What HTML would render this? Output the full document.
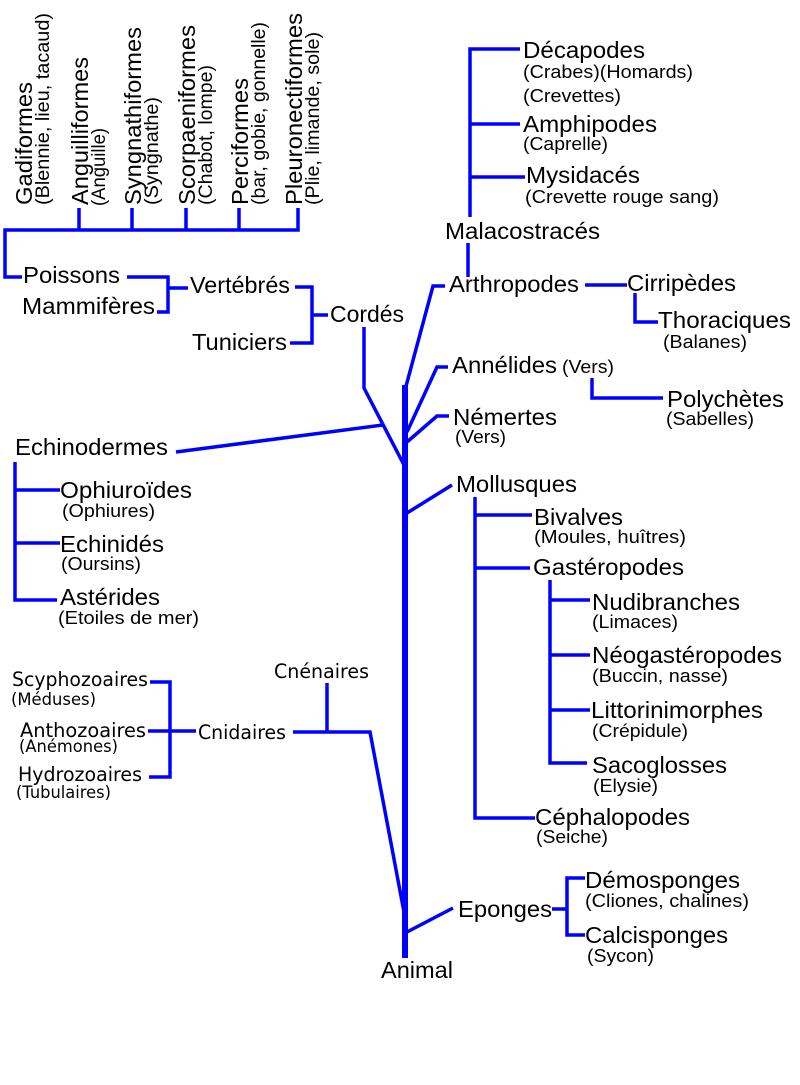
<!DOCTYPE html>
<html>
<head>
<meta charset="utf-8">
<style>
html,body{margin:0;padding:0;background:#fff;}
svg{display:block;}
.m{font-family:"Liberation Sans",Arial,sans-serif;font-size:23px;fill:#000;}
.s{font-family:"Liberation Sans",Arial,sans-serif;font-size:18px;fill:#000;}
.rm{font-family:"Liberation Sans",Arial,sans-serif;font-size:23px;fill:#000;}
.rs{font-family:"Liberation Sans",Arial,sans-serif;font-size:19px;fill:#000;}
.dm{font-family:"DejaVu Sans",sans-serif;font-size:19.5px;fill:#000;}
.ds{font-family:"DejaVu Sans",sans-serif;font-size:16.5px;fill:#000;}
.l{fill:none;stroke:#0000ff;stroke-width:3.5;stroke-linejoin:miter;}
</style>
</head>
<body>
<svg width="800" height="1085" viewBox="0 0 800 1085" xmlns="http://www.w3.org/2000/svg">
<rect x="0" y="0" width="800" height="1085" fill="#fff"/>

<!-- Lines -->
<g class="l">
  <path d="M22,277 H5 V230 H298 V208"/>
  <path d="M79,208 V230 M132,208 V230 M186,208 V230 M239,208 V230"/>
  <path d="M127,277 H168 V312 H157 M168,288 H188"/>
  <path d="M295,287 H312 V343 H290 M312,315 H328"/>
  <path d="M364,327 V388 L404,465"/>
  <path d="M176,452 L383,425"/>
  <path d="M15,462 V600 H57 M15,490 H60 M15,543 H60"/>
  <path d="M445,286 H433 L405,390"/>
  <path d="M520,49 H470 V217 M470,124 H520 M470,177 H525 M468,243 V277"/>
  <path d="M585,285 H627 M635,293 V322 H658"/>
  <path d="M448,367 H437 L407,432"/>
  <path d="M592,378 V398 H663"/>
  <path d="M449,416 H437 L407,442"/>
  <path d="M452,485 L407,513"/>
  <path d="M475,497 V818 H535 M475,515 H532 M475,568 H530"/>
  <path d="M550,580 V763 H587 M550,600 H590 M550,655 H590 M550,710 H590"/>
  <path d="M453,908 L407,932"/>
  <path d="M552,909 H567 M585,878 H567 V935 H585"/>
  <path d="M150,682 H170 V777 H149 M148,731 H196"/>
  <path d="M293,732 H370 L404,912 M327,683 V732"/>
</g>
<path d="M405,385 V958" stroke="#0000ff" stroke-width="6" fill="none"/>

<!-- Rotated fish labels -->
<text class="rm" transform="translate(32,205) rotate(-90)" textLength="123" lengthAdjust="spacingAndGlyphs">Gadiformes</text>
<text class="rs" transform="translate(49,205) rotate(-90)" textLength="192" lengthAdjust="spacingAndGlyphs">(Blennie, lieu, tacaud)</text>
<text class="rm" transform="translate(88,205) rotate(-90)" textLength="148" lengthAdjust="spacingAndGlyphs">Anguilliformes</text>
<text class="rs" transform="translate(105,206) rotate(-90)" textLength="78" lengthAdjust="spacingAndGlyphs">(Anguille)</text>
<text class="rm" transform="translate(141,205) rotate(-90)" textLength="178" lengthAdjust="spacingAndGlyphs">Syngnathiformes</text>
<text class="rs" transform="translate(158,205) rotate(-90)" textLength="108" lengthAdjust="spacingAndGlyphs">(Syngnathe)</text>
<text class="rm" transform="translate(195,205) rotate(-90)" textLength="180" lengthAdjust="spacingAndGlyphs">Scorpaeniformes</text>
<text class="rs" transform="translate(212,205) rotate(-90)" textLength="140" lengthAdjust="spacingAndGlyphs">(Chabot, lompe)</text>
<text class="rm" transform="translate(248,205) rotate(-90)" textLength="127" lengthAdjust="spacingAndGlyphs">Perciformes</text>
<text class="rs" transform="translate(265,205) rotate(-90)" textLength="183" lengthAdjust="spacingAndGlyphs">(bar, gobie, gonnelle)</text>
<text class="rm" transform="translate(302,205) rotate(-90)" textLength="192" lengthAdjust="spacingAndGlyphs">Pleuronectiformes</text>
<text class="rs" transform="translate(319,205) rotate(-90)" textLength="173" lengthAdjust="spacingAndGlyphs">(Plie, limande, sole)</text>

<!-- Left upper labels -->
<text class="m" x="23" y="283" textLength="97" lengthAdjust="spacingAndGlyphs">Poissons</text>
<text class="m" x="22" y="314" textLength="133" lengthAdjust="spacingAndGlyphs">Mammifères</text>
<text class="m" x="190" y="293" textLength="100" lengthAdjust="spacingAndGlyphs">Vertébrés</text>
<text class="m" x="192" y="350" textLength="95" lengthAdjust="spacingAndGlyphs">Tuniciers</text>
<text class="m" x="330" y="322" textLength="74" lengthAdjust="spacingAndGlyphs">Cordés</text>

<!-- Echinoderms -->
<text class="m" x="15" y="455" textLength="153" lengthAdjust="spacingAndGlyphs">Echinodermes</text>
<text class="m" x="60" y="498" textLength="132" lengthAdjust="spacingAndGlyphs">Ophiuroïdes</text>
<text class="s" x="62" y="517" textLength="93" lengthAdjust="spacingAndGlyphs">(Ophiures)</text>
<text class="m" x="60" y="552" textLength="104" lengthAdjust="spacingAndGlyphs">Echinidés</text>
<text class="s" x="61" y="570" textLength="80" lengthAdjust="spacingAndGlyphs">(Oursins)</text>
<text class="m" x="60" y="605" textLength="100" lengthAdjust="spacingAndGlyphs">Astérides</text>
<text class="s" x="58" y="624" textLength="141" lengthAdjust="spacingAndGlyphs">(Etoiles de mer)</text>

<!-- Arthropods -->
<text class="m" x="523" y="58" textLength="122" lengthAdjust="spacingAndGlyphs">Décapodes</text>
<text class="s" x="523" y="78" textLength="170" lengthAdjust="spacingAndGlyphs">(Crabes)(Homards)</text>
<text class="s" x="523" y="102" textLength="98" lengthAdjust="spacingAndGlyphs">(Crevettes)</text>
<text class="m" x="523" y="132" textLength="134" lengthAdjust="spacingAndGlyphs">Amphipodes</text>
<text class="s" x="523" y="150" textLength="85" lengthAdjust="spacingAndGlyphs">(Caprelle)</text>
<text class="m" x="526" y="183" textLength="114" lengthAdjust="spacingAndGlyphs">Mysidacés</text>
<text class="s" x="525" y="203" textLength="194" lengthAdjust="spacingAndGlyphs">(Crevette rouge sang)</text>
<text class="m" x="445" y="239" textLength="155" lengthAdjust="spacingAndGlyphs">Malacostracés</text>
<text class="m" x="449" y="292" textLength="130" lengthAdjust="spacingAndGlyphs">Arthropodes</text>
<text class="m" x="627" y="291" textLength="109" lengthAdjust="spacingAndGlyphs">Cirripèdes</text>
<text class="m" x="658" y="328" textLength="133" lengthAdjust="spacingAndGlyphs">Thoraciques</text>
<text class="s" x="663" y="348" textLength="84" lengthAdjust="spacingAndGlyphs">(Balanes)</text>

<!-- Annelids / Nemerteans -->
<text class="m" x="452" y="373" textLength="105" lengthAdjust="spacingAndGlyphs">Annélides</text>
<text class="s" x="562" y="373" textLength="52" lengthAdjust="spacingAndGlyphs">(Vers)</text>
<text class="m" x="667" y="407" textLength="117" lengthAdjust="spacingAndGlyphs">Polychètes</text>
<text class="s" x="666" y="425" textLength="88" lengthAdjust="spacingAndGlyphs">(Sabelles)</text>
<text class="m" x="453" y="425" textLength="104" lengthAdjust="spacingAndGlyphs">Némertes</text>
<text class="s" x="455" y="443" textLength="51" lengthAdjust="spacingAndGlyphs">(Vers)</text>

<!-- Molluscs -->
<text class="m" x="456" y="492" textLength="121" lengthAdjust="spacingAndGlyphs">Mollusques</text>
<text class="m" x="534" y="525" textLength="89" lengthAdjust="spacingAndGlyphs">Bivalves</text>
<text class="s" x="534" y="543" textLength="152" lengthAdjust="spacingAndGlyphs">(Moules, huîtres)</text>
<text class="m" x="533" y="575" textLength="151" lengthAdjust="spacingAndGlyphs">Gastéropodes</text>
<text class="m" x="592" y="610" textLength="148" lengthAdjust="spacingAndGlyphs">Nudibranches</text>
<text class="s" x="592" y="628" textLength="86" lengthAdjust="spacingAndGlyphs">(Limaces)</text>
<text class="m" x="592" y="663" textLength="190" lengthAdjust="spacingAndGlyphs">Néogastéropodes</text>
<text class="s" x="592" y="682" textLength="136" lengthAdjust="spacingAndGlyphs">(Buccin, nasse)</text>
<text class="m" x="591" y="718" textLength="172" lengthAdjust="spacingAndGlyphs">Littorinimorphes</text>
<text class="s" x="592" y="737" textLength="96" lengthAdjust="spacingAndGlyphs">(Crépidule)</text>
<text class="m" x="592" y="773" textLength="135" lengthAdjust="spacingAndGlyphs">Sacoglosses</text>
<text class="s" x="593" y="792" textLength="65" lengthAdjust="spacingAndGlyphs">(Elysie)</text>
<text class="m" x="535" y="825" textLength="155" lengthAdjust="spacingAndGlyphs">Céphalopodes</text>
<text class="s" x="536" y="843" textLength="72" lengthAdjust="spacingAndGlyphs">(Seiche)</text>

<!-- Sponges -->
<text class="m" x="458" y="917" textLength="94" lengthAdjust="spacingAndGlyphs">Eponges</text>
<text class="m" x="585" y="888" textLength="155" lengthAdjust="spacingAndGlyphs">Démosponges</text>
<text class="s" x="585" y="907" textLength="164" lengthAdjust="spacingAndGlyphs">(Cliones, chalines)</text>
<text class="m" x="585" y="943" textLength="143" lengthAdjust="spacingAndGlyphs">Calcisponges</text>
<text class="s" x="587" y="962" textLength="67" lengthAdjust="spacingAndGlyphs">(Sycon)</text>
<text class="m" x="381" y="978" textLength="72" lengthAdjust="spacingAndGlyphs">Animal</text>

<!-- Cnidarians -->
<text class="dm" x="12" y="686" textLength="136" lengthAdjust="spacingAndGlyphs">Scyphozoaires</text>
<text class="ds" x="11" y="705" textLength="85" lengthAdjust="spacingAndGlyphs">(Méduses)</text>
<text class="dm" x="20" y="737" textLength="126" lengthAdjust="spacingAndGlyphs">Anthozoaires</text>
<text class="ds" x="19" y="752" textLength="99" lengthAdjust="spacingAndGlyphs">(Anémones)</text>
<text class="dm" x="18" y="781" textLength="124" lengthAdjust="spacingAndGlyphs">Hydrozoaires</text>
<text class="ds" x="16" y="798" textLength="95" lengthAdjust="spacingAndGlyphs">(Tubulaires)</text>
<text class="dm" x="198" y="739" textLength="88" lengthAdjust="spacingAndGlyphs">Cnidaires</text>
<text class="dm" x="274" y="678" textLength="95" lengthAdjust="spacingAndGlyphs">Cnénaires</text>
</svg>
</body>
</html>
